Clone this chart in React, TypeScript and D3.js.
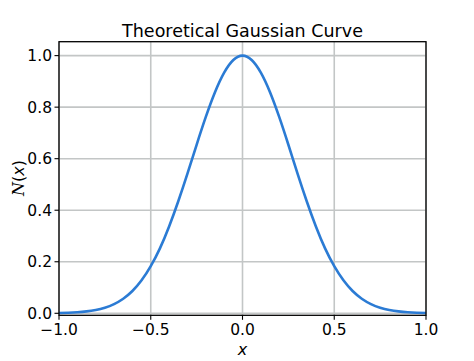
import React from "react";
import * as d3 from "d3";

const xValues = [
  -1.0, -0.95, -0.9, -0.85, -0.8, -0.75, -0.7, -0.65, -0.6, -0.55, -0.5, -0.45, -0.4, -0.35, -0.3, -0.25, -0.2, -0.15, -0.1, -0.05,
  0.0, 0.05, 0.1, 0.15, 0.2, 0.25, 0.3, 0.35, 0.4, 0.45, 0.5, 0.55, 0.6, 0.65, 0.7, 0.75, 0.8, 0.85, 0.9, 0.95, 1.0,
];
const yValues = [
  0.0011, 0.0022, 0.004, 0.0073, 0.0129, 0.0218, 0.0357, 0.0565, 0.0864, 0.128, 0.183, 0.252, 0.337, 0.435, 0.542, 0.654, 0.762, 0.858, 0.934, 0.983,
  1.0, 0.983, 0.934, 0.858, 0.762, 0.654, 0.542, 0.435, 0.337, 0.252, 0.183, 0.128, 0.0864, 0.0565, 0.0357, 0.0218, 0.0129, 0.0073, 0.004, 0.0022, 0.0011,
];
const xTicks = [-1.0, -0.5, 0.0, 0.5, 1.0];
const yTicks = [0.0, 0.2, 0.4, 0.6, 0.8, 1.0];
const title = "Theoretical Gaussian Curve";
const xLabel = "x";

const W = 474;
const H = 361;
const L = 59, R = 426, T = 41.7, B = 315.3;

export default function App() {
  const x = d3.scaleLinear().domain([-1, 1]).range([L, R]);
  const y = d3.scaleLinear().domain([-0.0078, 1.054]).range([B, T]);
  const pts: [number, number][] = xValues.map((v, i) => [v, yValues[i]]);
  const line = d3
    .line<[number, number]>()
    .x((d) => x(d[0]))
    .y((d) => y(d[1]))
    .curve(d3.curveNatural);
  const font = "'DejaVu Sans', sans-serif";
  const fmt = d3.format(".1f");
  const minus = (s: string) => s.replace("-", "\u2212");
  return (
    <svg
      width={W}
      height={H}
      style={{ position: "absolute", left: 0, top: 0, background: "#fff" }}
      fontFamily={font}
    >
      <rect x={0} y={0} width={W} height={H} fill="#fff" />
      {xTicks.map((t) => (
        <line key={"gx" + t} x1={x(t)} x2={x(t)} y1={T} y2={B} stroke="#c3c6c6" strokeWidth={1.6} />
      ))}
      {yTicks.map((t) => (
        <line key={"gy" + t} x1={L} x2={R} y1={y(t)} y2={y(t)} stroke="#c3c6c6" strokeWidth={1.6} />
      ))}
      <path d={line(pts) || ""} fill="none" stroke="#2b7bd4" strokeWidth={2.6} />
      <rect x={L} y={T} width={R - L} height={B - T} fill="none" stroke="#000" strokeWidth={1.3} />
      {xTicks.map((t) => (
        <g key={"xt" + t}>
          <line x1={x(t)} x2={x(t)} y1={B} y2={B + 4.5} stroke="#000" strokeWidth={1.1} />
          <text x={x(t)} y={B + 20} textAnchor="middle" fontSize={15.5} fill="#000">
            {minus(fmt(t))}
          </text>
        </g>
      ))}
      {yTicks.map((t) => (
        <g key={"yt" + t}>
          <line x1={L - 4.5} x2={L} y1={y(t)} y2={y(t)} stroke="#000" strokeWidth={1.1} />
          <text x={L - 7} y={y(t) + 5.5} textAnchor="end" fontSize={15.5} fill="#000">
            {fmt(t)}
          </text>
        </g>
      ))}
      <text x={(L + R) / 2} y={36.7} textAnchor="middle" fontSize={17.5} fill="#000">
        {title}
      </text>
      <text x={(L + R) / 2} y={355} textAnchor="middle" fontSize={16} fontStyle="italic" fill="#000">
        {xLabel}
      </text>
      <text
        transform={`translate(24, 178) rotate(-90)`}
        textAnchor="middle"
        fontSize={16}
        fill="#000"
      >
        <tspan fontFamily="'DejaVu Serif', serif" fontStyle="italic">N</tspan>
        <tspan>(</tspan>
        <tspan fontStyle="italic">x</tspan>
        <tspan>)</tspan>
      </text>
    </svg>
  );
}
